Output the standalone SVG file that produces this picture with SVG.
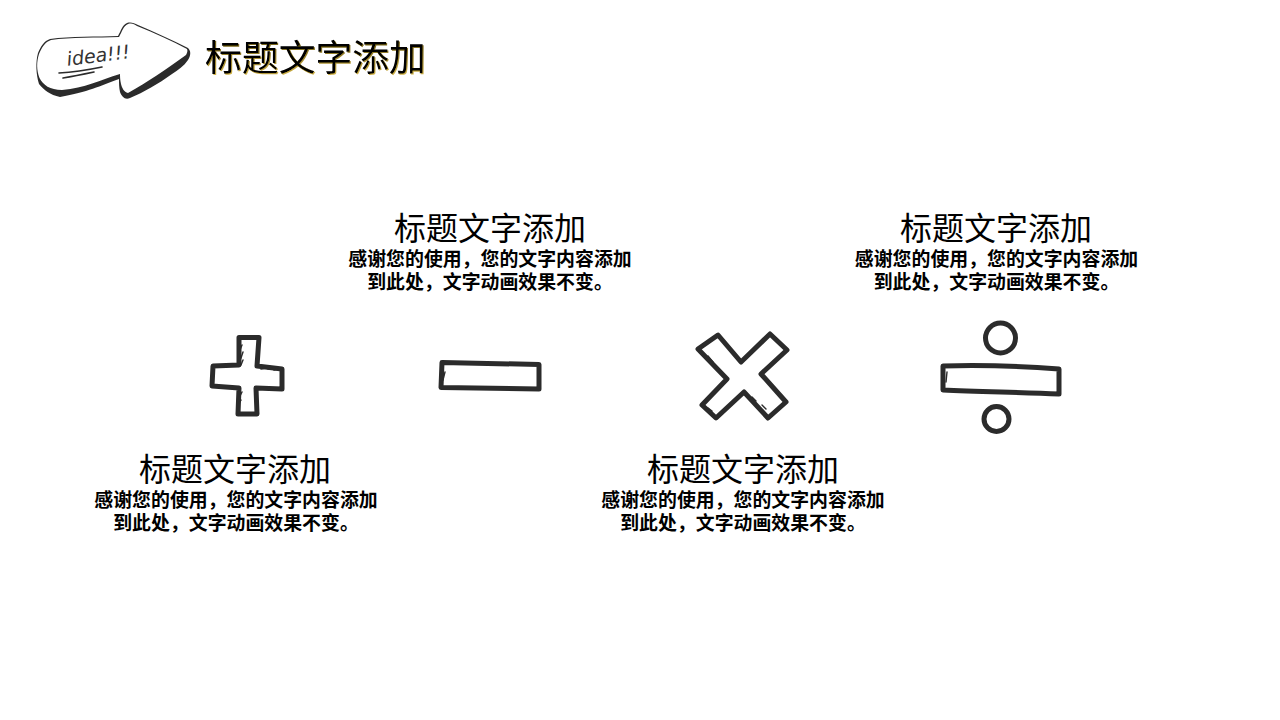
<svg xmlns="http://www.w3.org/2000/svg" width="1280" height="720" viewBox="0 0 1280 720">
<style>
text{font-family:"Liberation Serif","Noto Sans CJK SC",serif;text-anchor:middle;fill:#000}
.h{font-size:32px}
.b{font-size:18.9px;font-weight:bold}
.ink{fill:none;stroke:#2b2b2b;stroke-width:5;stroke-linejoin:round;stroke-linecap:round}
.ink2{fill:none;stroke:#2b2b2b;stroke-width:1.6;stroke-linecap:round;stroke-linejoin:round}
.tick{fill:none;stroke:#2b2b2b;stroke-width:1.4;stroke-linecap:round}
</style>
<defs>
<linearGradient id="gold" x1="0" y1="0" x2="0" y2="1"><stop offset="0" stop-color="#6a5a18"/><stop offset="1" stop-color="#e0c050"/></linearGradient>
<filter id="sh" x="-5%" y="-10%" width="110%" height="120%"><feOffset in="SourceAlpha" dx="-0.8" dy="-0.8" result="o"/><feFlood flood-color="#000"/><feComposite in2="o" operator="in" result="k"/><feMerge><feMergeNode in="SourceGraphic"/><feMergeNode in="k"/></feMerge></filter>
</defs>
<rect width="1280" height="720" fill="#fff"/>
<g id="badge">
<path d="M50 39C70 36 98 37 118 36C121 31 122 25 127 23C131 22 134 23 138 25C155 32 172 40 188 48C191 51 191 55 188 60C184 66 178 70 172 74C158 84 144 92 130 98C125 100 122 97 120 92C119 88 119 83 119 79C100 86 88 92 60 97C50 95 44 90 39 84C36 74 35.500 62 38 53C41 46 44 41 50 39Z" fill="#2b2b2b"/>
<path d="M51 40C70 37 98 38 119 37C122 32 123 26 128 24C132 23 134 24 137 26C155 33 172 41 187 49C188 51 187 53 186 55C165 70 148 82 128 93C124 92 122 88 121 84C120 80 120 76 120 74C100 80 85 88 62 90C50 90 43 85 39.500 78C36.500 70 36.500 62 39 54C42 47 45 42 51 40Z" fill="#fff"/>
<text x="99" y="62" transform="rotate(-7 99 62)" style="font-family:'DejaVu Sans',sans-serif;font-style:italic;font-size:19px;fill:#333">idea!!!</text>
<path class="ink2" d="M59 73Q78 72 102 67M63 78Q75 76 94 72"/>
</g>
<g id="title"><text x="316.500" y="72" filter="url(#sh)" style="font-size:36.800px;fill:url(#gold)">标题文字添加</text></g>
<g id="plus">
<path class="ink" d="M239 337.500L259 337.500L257 366L282 369L282 389L256 388L257 414L238 414L239 388L212 386L213 366L239 365Z"/>
<path class="tick" d="M242 345L240 350M243 352L241 358M243 360L241 365M261 369L266 368M268 369L272 368M274 370L278 369M242 392L240 396M241 400L239 403"/>
</g>
<g id="minus">
<path class="ink" d="M442 362.500L539 364.500L539 389L441 387.500Z"/>
<path class="tick" d="M445 372L443 380"/>
</g>
<g id="times">
<path class="ink" d="M698 349L718 335L741 362L770 334L787 350L761 374L786 402L768 418L744 392L716 418L702 405L727 379Z"/>
<path class="tick" d="M708 356L713 362M716 366L721 371M708 408L712 411M752 397L756 401M762 405L766 409"/>
</g>
<g id="divide">
<path class="ink" d="M943 366C980 365 1020 366 1059 369L1059 394C1020 392 980 392 943 390Z"/>
<path class="tick" d="M947 372L946 382"/>
<circle class="ink" cx="1000.500" cy="338" r="15"/>
<circle class="ink" cx="996.500" cy="419" r="12.500"/>
</g>
<g id="t1"><text class="h" x="490" y="240">标题文字添加</text><text class="b" x="490" y="265.500">感谢您的使用&#xFF0C;您的文字内容添加</text><text class="b" x="490" y="288.500">到此处&#xFF0C;文字动画效果不变。</text></g>
<g id="t2"><text class="h" x="996" y="240">标题文字添加</text><text class="b" x="996.500" y="265.500">感谢您的使用&#xFF0C;您的文字内容添加</text><text class="b" x="996.500" y="288.500">到此处&#xFF0C;文字动画效果不变。</text></g>
<g id="t3"><text class="h" x="235" y="481">标题文字添加</text><text class="b" x="236" y="506.500">感谢您的使用&#xFF0C;您的文字内容添加</text><text class="b" x="236" y="529.500">到此处&#xFF0C;文字动画效果不变。</text></g>
<g id="t4"><text class="h" x="743" y="481">标题文字添加</text><text class="b" x="743" y="506.500">感谢您的使用&#xFF0C;您的文字内容添加</text><text class="b" x="743" y="529.500">到此处&#xFF0C;文字动画效果不变。</text></g>
</svg>
